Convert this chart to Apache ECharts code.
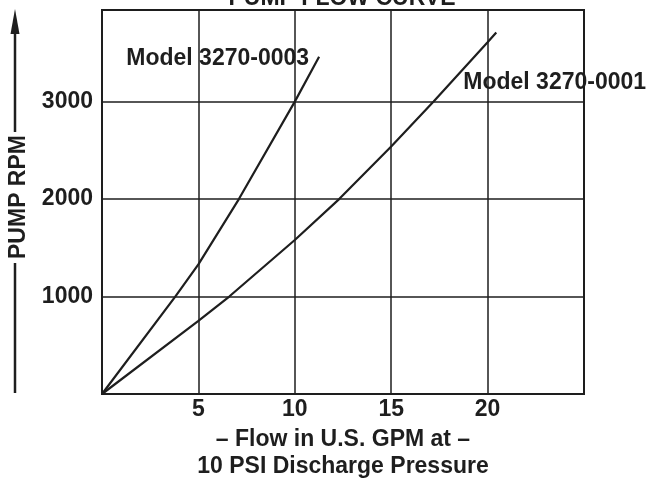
<!DOCTYPE html>
<html>
<head>
<meta charset="utf-8">
<script src="https://cdn.jsdelivr.net/npm/echarts@6/dist/echarts.min.js"></script>
<style>
html,body{margin:0;padding:0;background:#fff;}
#chart{width:648px;height:478px;}
</style>
</head>
<body>
<div id="chart"></div>
<script>
// Data
const model0003Flow = [0, 3.8, 5, 7.1, 10, 11.26];
const model0003Rpm  = [0, 1000, 1330, 2000, 3000, 3460];
const model0001Flow = [0, 5, 6.6, 10, 12.3, 15, 17.2, 20, 20.45];
const model0001Rpm  = [0, 750, 1000, 1580, 2000, 2540, 3000, 3610, 3710];
const xTickLabels = [5, 10, 15, 20];
const yTickLabels = [1000, 2000, 3000];
const seriesNames = ['Model 3270-0003', 'Model 3270-0001'];
const titleText = 'PUMP FLOW CURVE';
const xAxisName = '\u2013 Flow in U.S. GPM at \u2013\n10 PSI Discharge Pressure';
const yAxisName = 'PUMP RPM';

const pair = (xs, ys) => xs.map((x, i) => [x, ys[i]]);
const ink = '#1e1e1e';
const font = '"Liberation Sans", Arial, sans-serif';
const fs = 23;

const chart = echarts.init(document.getElementById('chart'), null, {renderer: 'canvas'});
chart.setOption({
  animation: false,
  backgroundColor: '#fff',
  title: {
    text: titleText, left: 337, textAlign: 'center', top: -18,
    textStyle: {fontFamily: font, fontWeight: 'bold', fontSize: fs, color: ink}
  },
  grid: {left: 102, right: 64, top: 10, bottom: 84, show: true, borderColor: ink, borderWidth: 2,
         containLabel: false, outerBoundsMode: 'none'},
  xAxis: {
    type: 'value', min: 0, max: 25, interval: 5,
    name: xAxisName, nameLocation: 'middle', nameGap: 30,
    nameTextStyle: {fontFamily: font, fontWeight: 'bold', fontSize: fs, color: ink, lineHeight: 27},
    axisLine: {show: true, lineStyle: {color: ink, width: 2}},
    axisTick: {show: false},
    axisLabel: {
      margin: 4, fontFamily: font, fontWeight: 'bold', fontSize: fs, color: ink,
      formatter: v => xTickLabels.indexOf(v) >= 0 ? String(v) : ''
    },
    splitLine: {show: true, lineStyle: {color: ink, width: 1.5}}
  },
  yAxis: {
    type: 'value', min: 0, max: 3940, interval: 1000,
    axisLine: {show: true, lineStyle: {color: ink, width: 2}},
    axisTick: {show: false},
    axisLabel: {
      margin: 9, fontFamily: font, fontWeight: 'bold', fontSize: fs, color: ink,
      formatter: v => yTickLabels.indexOf(v) >= 0 ? String(v) : ''
    },
    splitLine: {show: true, lineStyle: {color: ink, width: 1.5}}
  },
  series: [
    {
      name: seriesNames[0], type: 'line', smooth: false, showSymbol: false,
      data: pair(model0003Flow, model0003Rpm),
      lineStyle: {color: ink, width: 2.2},
      endLabel: {
        show: true, formatter: seriesNames[0], align: 'right', distance: 0, offset: [-10, 2],
        fontFamily: font, fontWeight: 'bold', fontSize: fs, color: ink
      }
    },
    {
      name: seriesNames[1], type: 'line', smooth: false, showSymbol: false,
      data: pair(model0001Flow, model0001Rpm),
      lineStyle: {color: ink, width: 2.2},
      endLabel: {
        show: true, formatter: seriesNames[1], align: 'left', distance: 0, offset: [-33, 50],
        fontFamily: font, fontWeight: 'bold', fontSize: fs, color: ink
      }
    }
  ],
  graphic: [
    {type: 'line', shape: {x1: 15, y1: 24, x2: 15, y2: 132}, style: {stroke: ink, lineWidth: 2.5}},
    {type: 'line', shape: {x1: 15, y1: 263, x2: 15, y2: 393}, style: {stroke: ink, lineWidth: 2.5}},
    {type: 'polygon', shape: {points: [[15, 9], [10.5, 34], [19.5, 34]]}, style: {fill: ink}},
    {type: 'text', x: 19, y: 197, rotation: Math.PI / 2,
     style: {text: yAxisName, font: 'bold ' + fs + 'px ' + font, fill: ink, align: 'center', verticalAlign: 'middle'}}
  ]
});
</script>
</body>
</html>
